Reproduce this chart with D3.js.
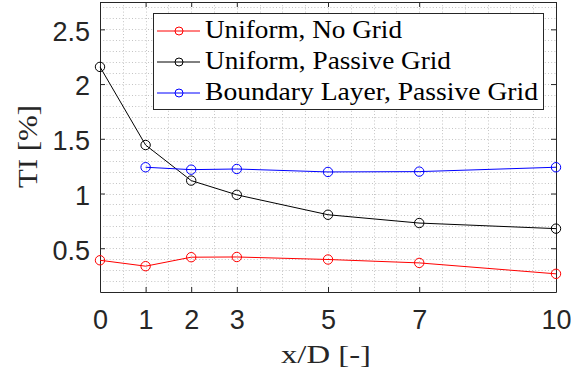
<!DOCTYPE html>
<html>
<head>
<meta charset="utf-8">
<script src="https://cdn.jsdelivr.net/npm/d3@7"></script>
<style>
  html, body { margin: 0; padding: 0; background: #fff; }
  svg { display: block; }
</style>
</head>
<body>
<svg id="chart" width="571" height="374"></svg>
<script>
// Downstream distance x/D and turbulence intensity (%)
const xPos = [0, 1, 2, 3, 5, 7, 10];
const uniformNoGrid = [0.39, 0.336, 0.418, 0.42, 0.397, 0.366, 0.266];
const uniformPassiveGrid = [2.157, 1.443, 1.118, 0.988, 0.806, 0.73, 0.679];
const blXPos = [1, 2, 3, 5, 7, 10];
const boundaryLayerPassiveGrid = [1.24, 1.218, 1.224, 1.197, 1.2, 1.24];

const xTicks = [0, 1, 2, 3, 5, 7, 10];
const yTicks = [0.5, 1, 1.5, 2, 2.5];
const seriesNames = ["Uniform, No Grid", "Uniform, Passive Grid", "Boundary Layer, Passive Grid"];
const seriesColors = ["#ff0000", "#000000", "#0000ff"];

const svg = d3.select("#chart");
const plotLeft = 100, plotRight = 556, plotTop = 2, plotBottom = 292;
const axisColor = "#262626";

const x = d3.scaleLinear().domain([0, 10]).range([plotLeft, plotRight]);
const y = d3.scaleLinear().domain([0.1, 2.75]).range([plotBottom, plotTop]);

// dotted minor grid
const grid = svg.append("g").attr("stroke", "#c4c4c4").attr("stroke-width", 1)
  .attr("stroke-dasharray", "1,2.2");
grid.selectAll("line.vx").data(d3.range(1, 20).map(i => i * 0.5)).join("line")
  .attr("class", "vx")
  .attr("x1", d => Math.round(x(d)) + 0.5).attr("x2", d => Math.round(x(d)) + 0.5)
  .attr("y1", plotTop).attr("y2", plotBottom);
grid.selectAll("line.hy").data(d3.range(2, 28).map(i => i / 10)).join("line")
  .attr("class", "hy")
  .attr("y1", d => Math.round(y(d)) + 0.5).attr("y2", d => Math.round(y(d)) + 0.5)
  .attr("x1", plotLeft).attr("x2", plotRight);

// axes with inward ticks on all four sides
const tickLen = 5;
const fontTick = "'Liberation Sans', Arial, Helvetica, sans-serif";
function styleAxis(g) {
  g.select(".domain").attr("stroke", axisColor).attr("stroke-width", 1);
  g.selectAll(".tick line").attr("stroke", axisColor).attr("stroke-width", 1);
  g.selectAll(".tick text").attr("fill", axisColor).attr("font-family", fontTick).attr("font-size", 27);
}
const xBottom = svg.append("g").attr("transform", `translate(0,${plotBottom})`)
  .call(d3.axisBottom(x).tickValues(xTicks).tickFormat(d3.format("d")).tickSizeInner(-tickLen).tickSizeOuter(0).tickPadding(18));
styleAxis(xBottom);
xBottom.selectAll(".tick text").attr("dy", "0.71em");

const xTop = svg.append("g").attr("transform", `translate(0,${plotTop})`)
  .call(d3.axisTop(x).tickValues(xTicks).tickFormat("").tickSizeInner(-tickLen).tickSizeOuter(0));
styleAxis(xTop);

const yLeft = svg.append("g").attr("transform", `translate(${plotLeft},0)`)
  .call(d3.axisLeft(y).tickValues(yTicks).tickFormat(d => String(d)).tickSizeInner(-tickLen).tickSizeOuter(0).tickPadding(10));
styleAxis(yLeft);
yLeft.selectAll(".tick text").attr("dy", "0.4em");

const yRight = svg.append("g").attr("transform", `translate(${plotRight},0)`)
  .call(d3.axisRight(y).tickValues(yTicks).tickFormat("").tickSizeInner(-tickLen).tickSizeOuter(0));
styleAxis(yRight);

// data series
const series = [
  { xs: xPos, ys: uniformNoGrid, color: seriesColors[0] },
  { xs: xPos, ys: uniformPassiveGrid, color: seriesColors[1] },
  { xs: blXPos, ys: boundaryLayerPassiveGrid, color: seriesColors[2] }
];
const line = d3.line().x(d => x(d[0])).y(d => y(d[1]));
series.forEach(s => {
  const pts = s.xs.map((v, i) => [v, s.ys[i]]);
  svg.append("path").datum(pts).attr("d", line)
    .attr("fill", "none").attr("stroke", s.color).attr("stroke-width", 1);
  svg.append("g").selectAll("circle").data(pts).join("circle")
    .attr("cx", d => x(d[0])).attr("cy", d => y(d[1])).attr("r", 4.7)
    .attr("fill", "none").attr("stroke", s.color).attr("stroke-width", 1);
});

// legend
const fontSerif = "'Liberation Serif', 'Times New Roman', serif";
const legend = svg.append("g");
legend.append("rect").attr("x", 153.5).attr("y", 13.5).attr("width", 390).attr("height", 96)
  .attr("fill", "#fff").attr("stroke", axisColor).attr("stroke-width", 1);
const legendWidths = [197, 246, 333];
seriesNames.forEach((name, i) => {
  const cy = 31 + i * 31;
  legend.append("line").attr("x1", 157).attr("x2", 200).attr("y1", cy).attr("y2", cy)
    .attr("stroke", seriesColors[i]).attr("stroke-width", 1);
  legend.append("circle").attr("cx", 179).attr("cy", cy).attr("r", 4)
    .attr("fill", "none").attr("stroke", seriesColors[i]).attr("stroke-width", 1);
  legend.append("text").attr("x", 205).attr("y", cy + 6.5)
    .attr("font-family", fontSerif).attr("font-size", 26).attr("fill", "#000")
    .attr("textLength", legendWidths[i]).attr("lengthAdjust", "spacingAndGlyphs")
    .text(name);
});

// axis titles
svg.append("text").attr("x", 326).attr("y", 363).attr("text-anchor", "middle")
  .attr("font-family", fontSerif).attr("font-size", 25).attr("fill", axisColor)
  .attr("textLength", 90).attr("lengthAdjust", "spacingAndGlyphs")
  .text("x/D [-]");
svg.append("text").attr("transform", "translate(37,146.5) rotate(-90)").attr("text-anchor", "middle")
  .attr("font-family", fontSerif).attr("font-size", 28).attr("fill", axisColor)
  .attr("textLength", 83).attr("lengthAdjust", "spacingAndGlyphs")
  .text("TI [%]");
</script>
</body>
</html>
